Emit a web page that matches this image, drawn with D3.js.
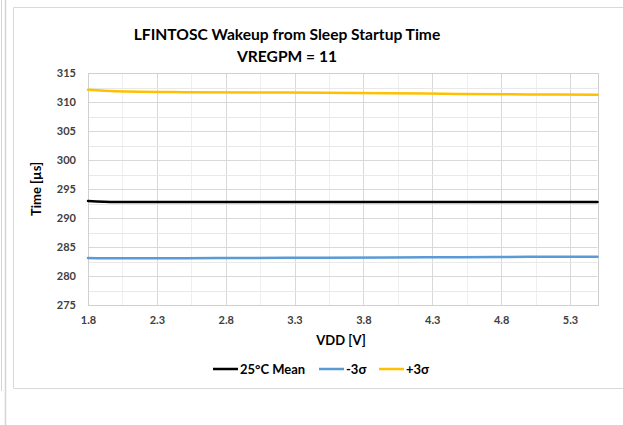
<!DOCTYPE html>
<html><head><meta charset="utf-8">
<script src="https://cdn.jsdelivr.net/npm/d3@7"></script>
<style>body{margin:0;background:#fff;}svg{display:block;}</style>
</head><body>
<svg id="c" width="623" height="425"></svg>
<script>
const vdd = [1.8, 2.0, 2.5, 3.0, 3.5, 4.0, 4.5, 5.0, 5.5];
const mean25 = [292.95, 292.75, 292.75, 292.75, 292.78, 292.78, 292.78, 292.78, 292.78];
const minus3 = [283.1, 283.05, 283.08, 283.12, 283.15, 283.2, 283.25, 283.3, 283.33];
const plus3  = [312.1, 311.85, 311.7, 311.65, 311.6, 311.5, 311.4, 311.3, 311.25];
const xTicks = [1.8, 2.3, 2.8, 3.3, 3.8, 4.3, 4.8, 5.3];
const yTicks = [275, 280, 285, 290, 295, 300, 305, 310, 315];
const seriesNames = ["25°C Mean", "-3σ", "+3σ"];
const seriesColors = ["#000000", "#5b9bd5", "#ffc000"];

const svg = d3.select("#c");
const font = "Lato, 'Open Sans', sans-serif";

// window artifacts
svg.append("line").attr("x1",1.5).attr("x2",1.5).attr("y1",0).attr("y2",391).attr("stroke","#d4d4d4");
svg.append("line").attr("x1",5.5).attr("x2",5.5).attr("y1",0).attr("y2",425).attr("stroke","#d4d4d4").attr("stroke-width",1.5);
// chart frame
svg.append("path").attr("d","M630,7.5H13.5V388.5H630").attr("fill","none").attr("stroke","#d9d9d9");

const x = d3.scaleLinear().domain([1.8, 5.5]).range([88, 597.5]);
const y = d3.scaleLinear().domain([275, 315]).range([305, 73]);

const g = svg.append("g");
const xMinor = d3.range(1.8, 5.5, 0.25).map(v => +v.toFixed(2));
g.selectAll(".vx").data(xMinor).join("line")
  .attr("x1", d => Math.round(x(d)) + 0.5).attr("x2", d => Math.round(x(d)) + 0.5)
  .attr("y1", y(315)).attr("y2", y(275))
  .attr("stroke", (d,i) => i % 2 === 0 ? "#d9d9d9" : "#efefef");
const yMinor = d3.range(275, 315.1, 2.5);
g.selectAll(".hy").data(yMinor).join("line")
  .attr("x1", x(1.8)).attr("x2", x(5.5))
  .attr("y1", d => Math.round(y(d)) + 0.5).attr("y2", d => Math.round(y(d)) + 0.5)
  .attr("stroke", (d,i) => i % 2 === 0 ? "#d9d9d9" : "#e8e8e8");
g.append("rect").attr("x", Math.round(x(1.8))+0.5).attr("y", Math.round(y(315))+0.5)
  .attr("width", Math.round(x(5.5)) - Math.round(x(1.8))).attr("height", Math.round(y(275)) - Math.round(y(315)))
  .attr("fill","none").attr("stroke","#d0d0d0");

const yAxis = d3.axisLeft(y).tickValues(yTicks).tickSize(0).tickPadding(12);
const ya = svg.append("g").attr("transform", `translate(${x(1.8)},0)`).call(yAxis);
ya.select(".domain").remove();
ya.selectAll("text").attr("font-family", font).attr("font-weight","bold").attr("font-size","11px").attr("fill","#404040");

const xAxis = d3.axisBottom(x).tickValues(xTicks).tickSize(0).tickPadding(11).tickFormat(d3.format(".1f"));
const xa = svg.append("g").attr("transform", `translate(0,${y(275)})`).call(xAxis);
xa.select(".domain").remove();
xa.selectAll("text").attr("font-family", font).attr("font-weight","bold").attr("font-size","11px").attr("fill","#404040");

const allSeries = [mean25, minus3, plus3];
const line = d3.line().x((d,i) => x(vdd[i])).y(d => y(d)).curve(d3.curveMonotoneX);
[1,2,0].forEach(k => {
  svg.append("path").datum(allSeries[k]).attr("d", line)
    .attr("fill","none").attr("stroke", seriesColors[k]).attr("stroke-width", 2.5).attr("stroke-linecap","round");
});

svg.append("text").attr("x", 287).attr("y", 40).attr("text-anchor","middle")
  .attr("font-family", font).attr("font-weight","bold").attr("font-size","15.6px").attr("fill","#000")
  .text("LFINTOSC Wakeup from Sleep Startup Time");
svg.append("text").attr("x", 287).attr("y", 62).attr("text-anchor","middle")
  .attr("font-family", font).attr("font-weight","bold").attr("font-size","15.6px").attr("fill","#000")
  .text("VREGPM = 11");
svg.append("text").attr("x", 341).attr("y", 345).attr("text-anchor","middle")
  .attr("font-family", font).attr("font-weight","bold").attr("font-size","13px").attr("fill","#000")
  .text("VDD [V]");
svg.append("text").attr("transform","translate(41,189) rotate(-90)").attr("text-anchor","middle")
  .attr("font-family", font).attr("font-weight","bold").attr("font-size","13px").attr("fill","#000")
  .text("Time [µs]");

const legX = [213, 319, 379];
const lg = svg.append("g");
seriesNames.forEach((n, i) => {
  lg.append("line").attr("x1", legX[i]).attr("x2", legX[i] + 25).attr("y1", 369).attr("y2", 369)
    .attr("stroke", seriesColors[i]).attr("stroke-width", 2.5);
  lg.append("text").attr("x", legX[i] + 27).attr("y", 373.5)
    .attr("font-family", font).attr("font-weight","bold").attr("font-size","13px").attr("fill","#000")
    .text(n);
});
</script>
</body></html>
